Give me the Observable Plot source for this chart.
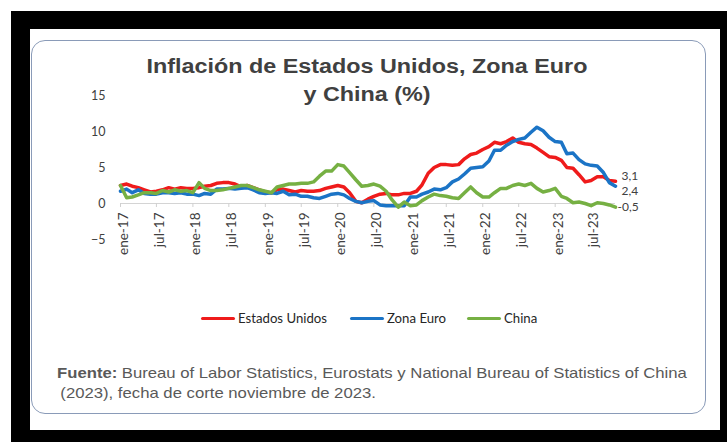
<!DOCTYPE html>
<html>
<head>
<meta charset="utf-8">
<script src="https://cdn.jsdelivr.net/npm/d3@7"></script>
<script src="https://cdn.jsdelivr.net/npm/@observablehq/plot@0.6"></script>
<style>
  html, body { margin: 0; padding: 0; background: #fff; }
  body { width: 727px; height: 442px; position: relative; overflow: hidden; }
  #outer { position: absolute; left: 11px; top: 11px; width: 716px; height: 431px; background: #000; }
  #inner { position: absolute; left: 30px; top: 29px; width: 690px; height: 401px; background: #fff; }
  #box { position: absolute; left: 31px; top: 40px; width: 673px; height: 372px; border: 1.5px solid #8a9bb8; border-radius: 14px; }
  #title { position: absolute; left: 0; top: 52px; width: 734px; text-align: center; font: bold 20px "Liberation Sans", Arial, sans-serif; line-height: 28px; color: #404040; transform: scaleX(1.167); transform-origin: 367px 0; }
  #chart { position: absolute; left: 0; top: 0; }
  .leg { position: absolute; top: 310px; height: 16px; display: flex; align-items: center; font: 13.2px Lato, sans-serif; color: #262626; }
  .leg span.sw { display: inline-block; width: 34px; height: 3px; border-radius: 2px; margin-right: 3px; }
  #foot { position: absolute; left: 57px; top: 363px; font: 15px "Liberation Sans", Arial, sans-serif; line-height: 20px; color: #595959; white-space: nowrap; transform: scaleX(1.113); transform-origin: 0 0; }
  #foot .l2 { padding-left: 3px; }
  #foot b { margin-right: 4px; }
</style>
</head>
<body>
<div id="outer"></div>
<div id="inner"></div>
<div id="box"></div>
<div id="chart"></div>
<div id="title">Inflación de Estados Unidos, Zona Euro<br>y China (%)</div>
<div id="legend"></div>
<div id="foot"><div><b>Fuente:</b><span>Bureau of Labor Statistics, Eurostats y National Bureau of Statistics of China</span></div><div class="l2">(2023), fecha de corte noviembre de 2023.</div></div>
<script>
// Series names and colours
const seriesNames = ["Estados Unidos", "Zona Euro", "China"];
const seriesColors = ["#ef1b1b", "#1b74c6", "#76b043"];

// Monthly values, ene-17 .. nov-23
const estadosUnidos = [
  2.5, 2.7, 2.4, 2.2, 1.9, 1.6, 1.7, 1.9, 2.2, 2.0, 2.2, 2.1,
  2.1, 2.2, 2.4, 2.5, 2.8, 2.9, 2.9, 2.7, 2.3, 2.5, 2.2, 1.9,
  1.6, 1.5, 1.9, 2.0, 1.8, 1.6, 1.8, 1.7, 1.7, 1.8, 2.1, 2.3,
  2.5, 2.3, 1.5, 0.3, 0.1, 0.6, 1.0, 1.3, 1.4, 1.2, 1.2, 1.4,
  1.4, 1.7, 2.6, 4.2, 5.0, 5.4, 5.4, 5.3, 5.4, 6.2, 6.8, 7.0,
  7.5, 7.9, 8.5, 8.3, 8.6, 9.1, 8.5, 8.3, 8.2, 7.7, 7.1, 6.5,
  6.4, 6.0, 5.0, 4.9, 4.0, 3.0, 3.2, 3.7, 3.7, 3.2, 3.1
];
const zonaEuro = [
  1.7, 2.0, 1.5, 1.9, 1.4, 1.3, 1.3, 1.5, 1.5, 1.4, 1.5, 1.3,
  1.3, 1.1, 1.4, 1.3, 2.0, 2.0, 2.1, 2.0, 2.1, 2.2, 1.9, 1.5,
  1.4, 1.5, 1.4, 1.7, 1.2, 1.3, 1.0, 1.0, 0.8, 0.7, 1.0, 1.3,
  1.4, 1.2, 0.7, 0.3, 0.1, 0.3, 0.4, -0.2, -0.3, -0.3, -0.3, -0.3,
  0.9, 0.9, 1.3, 1.6, 2.0, 1.9, 2.2, 3.0, 3.4, 4.1, 4.9, 5.0,
  5.1, 5.9, 7.4, 7.4, 8.1, 8.6, 8.9, 9.1, 9.9, 10.6, 10.1, 9.2,
  8.6, 8.5, 6.9, 7.0, 6.1, 5.5, 5.3, 5.2, 4.3, 2.9, 2.4
];
const china = [
  2.5, 0.8, 0.9, 1.2, 1.5, 1.5, 1.4, 1.8, 1.6, 1.9, 1.7, 1.8,
  1.5, 2.9, 2.1, 1.8, 1.8, 1.9, 2.1, 2.3, 2.5, 2.5, 2.2, 1.9,
  1.7, 1.5, 2.3, 2.5, 2.7, 2.7, 2.8, 2.8, 3.0, 3.8, 4.5, 4.5,
  5.4, 5.2, 4.3, 3.3, 2.4, 2.5, 2.7, 2.4, 1.7, 0.5, -0.5, 0.2,
  -0.3, -0.2, 0.4, 0.9, 1.3, 1.1, 1.0, 0.8, 0.7, 1.5, 2.3, 1.5,
  0.9, 0.9, 1.5, 2.1, 2.1, 2.5, 2.7, 2.5, 2.8, 2.1, 1.6, 1.8,
  2.1, 1.0, 0.7, 0.1, 0.2, 0.0, -0.3, 0.1, 0.0, -0.2, -0.5
];
const endLabels = ["3,1", "2,4", "-0,5"];

// Axis tick labels
const xTickLabels = ["ene-17","jul-17","ene-18","jul-18","ene-19","jul-19","ene-20","jul-20",
                     "ene-21","jul-21","ene-22","jul-22","ene-23","jul-23"];
const yTicks = [-5, 0, 5, 10, 15];

const mesesES = ["ene","feb","mar","abr","may","jun","jul","ago","sep","oct","nov","dic"];
const parseLabel = s => { const [m, y] = s.split("-"); return new Date(Date.UTC(2000 + +y, mesesES.indexOf(m), 1)); };
const fmt = d => mesesES[d.getUTCMonth()] + "-" + String(d.getUTCFullYear()).slice(2);

const months = d3.utcMonths(new Date(Date.UTC(2017, 0, 1)), new Date(Date.UTC(2023, 11, 1)));
const allSeries = [estadosUnidos, zonaEuro, china];
const rows = [];
allSeries.forEach((vals, si) => vals.forEach((v, i) => rows.push({date: months[i], value: v, serie: seriesNames[si]})));
const last = allSeries.map((vals, si) => ({date: months[vals.length - 1], value: vals[vals.length - 1], serie: seriesNames[si], label: endLabels[si]}));
const tickDates = xTickLabels.map(parseLabel);

const plot = Plot.plot({
  width: 727,
  height: 442,
  marginLeft: 120,
  marginRight: 112,
  marginTop: 95,
  marginBottom: 239,
  style: {fontFamily: "Lato, sans-serif", fontSize: "12px", color: "#404040", background: "transparent"},
  x: {type: "utc", domain: [months[0], months[months.length - 1]]},
  y: {domain: [-5, 15], range: [239, 95]},
  color: {domain: seriesNames, range: seriesColors},
  marks: [
    Plot.ruleY([0], {stroke: "#d4d4d4", strokeWidth: 1.2}),
    Plot.axisY(yTicks, {tickSize: 0, tickPadding: 15, fontSize: 12.5, fill: "#404040", label: null}),
    Plot.axisX(tickDates, {tickSize: 4, text: null, stroke: "#d0d0d0", label: null}),
    Plot.axisX(tickDates, {tickRotate: -90, tickFormat: fmt, tickSize: 0, tickPadding: 9, dx: 3, fill: "#404040", fontSize: 13.5, label: null}),
    Plot.lineY(rows, {x: "date", y: "value", z: "serie", stroke: "serie", strokeWidth: 3.5, strokeLinejoin: "round"}),
    Plot.text(last.slice(0, 1), {x: "date", y: "value", text: "label", textAnchor: "start", dx: 6, dy: -5, fontSize: 12, fill: "#404040"}),
    Plot.text(last.slice(1, 2), {x: "date", y: "value", text: "label", textAnchor: "start", dx: 6, dy: 5, fontSize: 12, fill: "#404040"}),
    Plot.text(last.slice(2, 3), {x: "date", y: "value", text: "label", textAnchor: "start", dx: 2, dy: 0, fontSize: 12, fill: "#404040"})
  ]
});
document.getElementById("chart").appendChild(plot);

// Legend
const legendLefts = [201, 350, 467];
const legend = document.getElementById("legend");
seriesNames.forEach((name, i) => {
  const item = document.createElement("div");
  item.className = "leg";
  item.style.left = legendLefts[i] + "px";
  item.innerHTML = `<span class="sw" style="background:${seriesColors[i]}"></span>${name}`;
  legend.appendChild(item);
});
</script>
</body>
</html>
